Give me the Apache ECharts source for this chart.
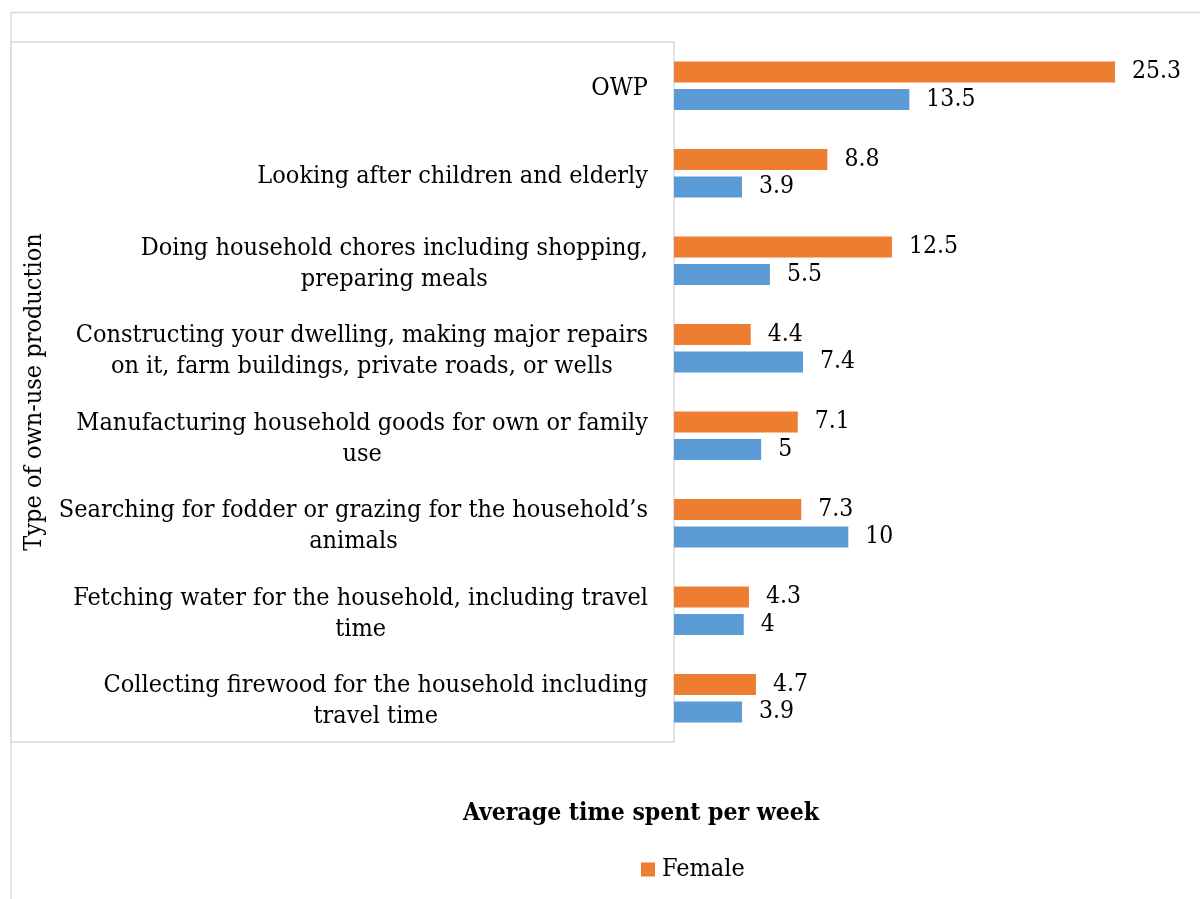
<!DOCTYPE html>
<html>
<head>
<meta charset="utf-8">
<script src="https://cdn.jsdelivr.net/npm/echarts@6/dist/echarts.min.js"></script>
<style>
  html, body { margin: 0; padding: 0; background: #ffffff; }
  #chart { width: 1200px; height: 899px; }
</style>
</head>
<body>
<div id="chart"></div>
<script>
// Activity categories, listed top to bottom
const categories = [
  'OWP',
  'Looking after children and elderly',
  'Doing household chores including shopping,\npreparing meals',
  'Constructing your dwelling, making major repairs\non it, farm buildings, private roads, or wells',
  'Manufacturing household goods for own or family\nuse',
  'Searching for fodder or grazing for the household\u2019s\nanimals',
  'Fetching water for the household, including travel\ntime',
  'Collecting firewood for the household including\ntravel time'
];
// Average hours per week
const femaleValues = [25.3, 8.8, 12.5, 4.4, 7.1, 7.3, 4.3, 4.7];
const maleValues = [13.5, 3.9, 5.5, 7.4, 5, 10, 4, 3.9];
const seriesNames = ['Female', 'Male'];

const FONT = "'DejaVu Serif Condensed', 'DejaVu Serif', serif";
const INK = '#000000';
const FRAME = '#d9d9d9';

const chart = echarts.init(document.getElementById('chart'), null, { renderer: 'canvas' });

// Each multi-line category label is centred line by line inside its block
function centredLines(text) {
  return text.split('\n').map(function (l) { return '{c|' + l + '}'; }).join('\n');
}

const valueLabel = {
  show: true,
  position: 'right',
  distance: 17,
  color: INK,
  fontFamily: FONT,
  fontSize: 24.5
};

chart.setOption({
  backgroundColor: '#ffffff',
  animation: false,
  textStyle: { fontFamily: FONT, color: INK },
  graphic: [
    { type: 'line', z: -10, silent: true, shape: { x1: 11, y1: 12.5, x2: 1200, y2: 12.5 }, style: { stroke: FRAME, lineWidth: 1.5 } },
    { type: 'line', z: -10, silent: true, shape: { x1: 11, y1: 12, x2: 11, y2: 899 }, style: { stroke: FRAME, lineWidth: 1.5 } },
    { type: 'rect', z: -9, silent: true, shape: { x: 11, y: 42, width: 663, height: 700 }, style: { fill: '#ffffff', stroke: FRAME, lineWidth: 1.5 } }
  ],
  title: {
    text: 'Average time spent per week',
    left: 636,
    top: 796,
    textAlign: 'center',
    textStyle: { fontFamily: FONT, fontSize: 24.5, fontWeight: 'bold', color: INK }
  },
  legend: {
    data: ['Female'],
    left: 641,
    top: 857,
    padding: 0,
    icon: 'rect',
    itemWidth: 14,
    itemHeight: 14,
    itemGap: 20,
    textStyle: { fontFamily: FONT, fontSize: 25, color: INK, padding: [0, 0, 0, 2] }
  },
  grid: { left: 674, right: 3, top: 42, bottom: 157, containLabel: false },
  xAxis: {
    type: 'value',
    min: 0,
    max: 30,
    show: false
  },
  yAxis: {
    type: 'category',
    data: categories,
    inverse: true,
    name: 'Type of own-use production',
    nameLocation: 'middle',
    nameRotate: 90,
    nameGap: 627,
    nameTextStyle: { fontFamily: FONT, fontSize: 25, color: INK },
    axisLine: { show: false },
    axisTick: { show: false },
    splitLine: { show: false },
    axisLabel: {
      margin: 26,
      color: INK,
      fontFamily: FONT,
      fontSize: 25,
      lineHeight: 31,
      padding: [6, 0, 0, 0],
      formatter: centredLines,
      rich: { c: { align: 'center', fontFamily: FONT, fontSize: 25, lineHeight: 31, color: INK } }
    }
  },
  series: [
    {
      name: seriesNames[0],
      type: 'bar',
      data: femaleValues,
      barWidth: 21,
      barGap: '30%',
      itemStyle: { color: '#ED7D31' },
      label: valueLabel
    },
    {
      name: seriesNames[1],
      type: 'bar',
      data: maleValues,
      barWidth: 21,
      barGap: '30%',
      itemStyle: { color: '#5B9BD5' },
      label: valueLabel
    }
  ]
});
</script>
</body>
</html>
